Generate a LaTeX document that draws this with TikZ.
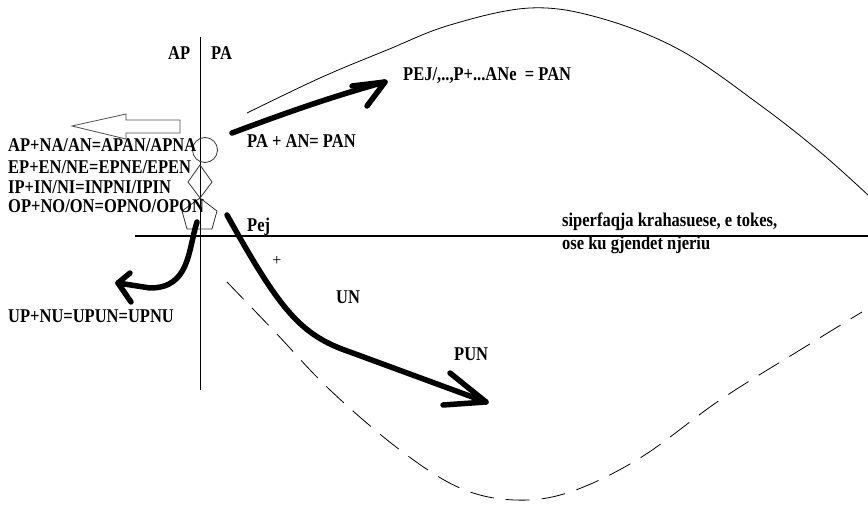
\documentclass[tikz,border=0pt]{standalone}
\usepackage{fontspec}
\usepackage{graphicx}
\setmainfont{Liberation Serif}
\newcommand{\LBL}[1]{\scalebox{1}[1.18]{#1}}
\tikzset{
  lbl/.style={font=\fontsize{16.5}{20}\bfseries\selectfont, inner sep=0pt, anchor=base west},
  thin/.style={line width=0.8pt},
  thick arrow/.style={line width=5.5pt, line cap=round, line join=round},
}
\begin{document}
\begin{tikzpicture}[x=1pt,y=-1pt]
\useasboundingbox (0,0) rectangle (868,505);
% axes
\coordinate (vtop) at (200,37);
\coordinate (vbot) at (200,390);
\draw[thin] (vtop) -- (vbot);
\coordinate (hl) at (135,236);
\coordinate (hr) at (868,236);
\draw[line width=2pt] (hl) -- (hr);
% labels on top
\node[lbl] (AP) at (168,60) {\LBL{AP}};
\node[lbl] (PA) at (211,60) {\LBL{PA}};
% outline arrow pointing left
\draw[thin, black!70] (72,126) -- (126,114) -- (126,120) -- (180,120) -- (180,133) -- (126,133) -- (126,139) -- cycle;
% figures on the axis
\node[draw, thin, black!80, circle, minimum size=25pt, inner sep=0pt] (circ) at (205,150) {};
\draw[thin, black!80] (200,165) -- (212,182) -- (200,198) -- (188,182) -- cycle;
\draw[thin, black!80] (200,198) -- (217,211) -- (212,229) -- (187,229) -- (182,211) -- cycle;
% left text lines
\node[lbl] (l1) at (8,152) {\LBL{AP+NA/AN=APAN/APNA}};
\node[lbl] (l2) at (8,174) {\LBL{EP+EN/NE=EPNE/EPEN}};
\node[lbl] (l3) at (8,194) {\LBL{IP+IN/NI=INPNI/IPIN}};
\node[lbl] (l4) at (8,213) {\LBL{OP+NO/ON=OPNO/OPON}};
\node[lbl] (l5) at (8,323) {\LBL{UP+NU=UPUN=UPNU}};
% upper thin curve
\draw[thin] plot[smooth, tension=0.6] coordinates {(247,113) (320,78) (387,50) (450,25) (530,8) (600,18) (680,50) (760,105) (820,152) (868,195)};
% lower dashed curve
\draw[thin, dash pattern=on 24pt off 12pt] plot[smooth, tension=0.6] coordinates {(227,282) (275,332) (330,390) (400,450) (460,488) (515,500) (570,492) (640,458) (720,400) (800,350) (862,312)};
% arrow up-right
\coordinate (a1s) at (232,133);
\coordinate (a1t) at (385,82);
\draw[thick arrow] (a1s) .. controls (280,115) and (330,97) .. (a1t);
\draw[thick arrow] (352,86) -- (a1t) -- (367,106);
\node[lbl] (pej) at (403,81) {\LBL{PEJ/,..,P+...ANe~~= PAN}};
\node[lbl] (paan) at (247,148) {\LBL{PA + AN= PAN}};
% arrow down-left
\coordinate (a2s) at (197,222);
\coordinate (a2t) at (118,283);
\draw[thick arrow] (a2s) .. controls (188,250) and (190,288) .. (150,288) -- (a2t);
\draw[thick arrow] (130,273) -- (a2t) -- (131,302);
% arrow down-right
\coordinate (a3s) at (227,215);
\coordinate (a3t) at (486,402);
\draw[thick arrow] (a3s) .. controls (280,310) and (300,335) .. (350,352) -- (a3t);
\draw[thick arrow] (450,373) -- (a3t) -- (443,405);
% small labels
\node[lbl] (pejl) at (247,232) {\LBL{Pej}};
\node[font=\fontsize{16}{18}\selectfont, inner sep=0pt] (plus) at (277,261) {+};
\node[lbl] (un) at (336,304) {\LBL{UN}};
\node[lbl] (pun) at (454,360) {\LBL{PUN}};
\node[lbl] (s1) at (562,227) {\LBL{siperfaqja krahasuese, e tokes,}};
\node[lbl] (s2) at (562,250) {\LBL{ose ku gjendet njeriu}};
\end{tikzpicture}
\end{document}
